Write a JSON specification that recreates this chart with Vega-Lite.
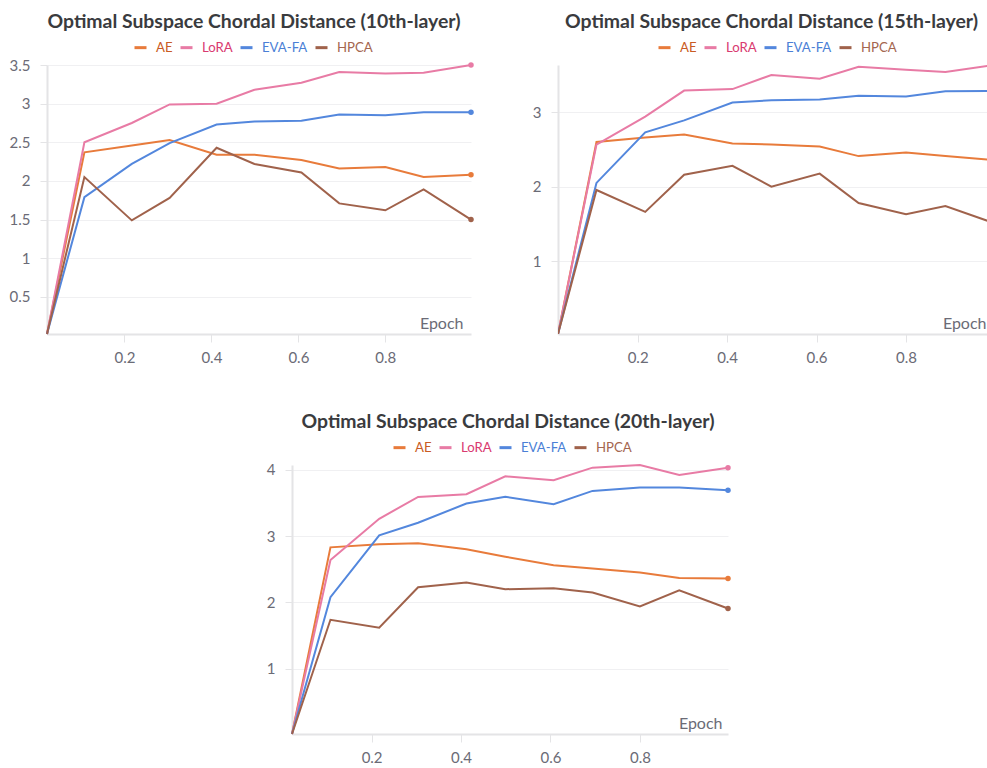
{
  "$schema": "https://vega.github.io/schema/vega-lite/v6.json",
  "padding": {"left": 9, "top": 11, "right": 0, "bottom": 0},
  "background": "white",
  "datasets": {
    "l10": [
      {"epoch": 0.022, "method": "AE", "value": 0.02}, {"epoch": 0.108, "method": "AE", "value": 2.37}, {"epoch": 0.217, "method": "AE", "value": 2.46}, {"epoch": 0.304, "method": "AE", "value": 2.53}, {"epoch": 0.412, "method": "AE", "value": 2.34}, {"epoch": 0.499, "method": "AE", "value": 2.34}, {"epoch": 0.607, "method": "AE", "value": 2.27}, {"epoch": 0.694, "method": "AE", "value": 2.16}, {"epoch": 0.8, "method": "AE", "value": 2.18}, {"epoch": 0.888, "method": "AE", "value": 2.05}, {"epoch": 0.997, "method": "AE", "value": 2.08},
      {"epoch": 0.022, "method": "LoRA", "value": 0.02}, {"epoch": 0.108, "method": "LoRA", "value": 2.5}, {"epoch": 0.217, "method": "LoRA", "value": 2.75}, {"epoch": 0.304, "method": "LoRA", "value": 2.99}, {"epoch": 0.412, "method": "LoRA", "value": 3.0}, {"epoch": 0.499, "method": "LoRA", "value": 3.18}, {"epoch": 0.607, "method": "LoRA", "value": 3.27}, {"epoch": 0.694, "method": "LoRA", "value": 3.41}, {"epoch": 0.8, "method": "LoRA", "value": 3.39}, {"epoch": 0.888, "method": "LoRA", "value": 3.4}, {"epoch": 0.997, "method": "LoRA", "value": 3.5},
      {"epoch": 0.022, "method": "EVA-FA", "value": 0.02}, {"epoch": 0.108, "method": "EVA-FA", "value": 1.79}, {"epoch": 0.217, "method": "EVA-FA", "value": 2.22}, {"epoch": 0.304, "method": "EVA-FA", "value": 2.49}, {"epoch": 0.412, "method": "EVA-FA", "value": 2.73}, {"epoch": 0.499, "method": "EVA-FA", "value": 2.77}, {"epoch": 0.607, "method": "EVA-FA", "value": 2.78}, {"epoch": 0.694, "method": "EVA-FA", "value": 2.86}, {"epoch": 0.8, "method": "EVA-FA", "value": 2.85}, {"epoch": 0.888, "method": "EVA-FA", "value": 2.89}, {"epoch": 0.997, "method": "EVA-FA", "value": 2.89},
      {"epoch": 0.022, "method": "HPCA", "value": 0.02}, {"epoch": 0.108, "method": "HPCA", "value": 2.05}, {"epoch": 0.217, "method": "HPCA", "value": 1.49}, {"epoch": 0.304, "method": "HPCA", "value": 1.78}, {"epoch": 0.412, "method": "HPCA", "value": 2.43}, {"epoch": 0.499, "method": "HPCA", "value": 2.22}, {"epoch": 0.607, "method": "HPCA", "value": 2.11}, {"epoch": 0.694, "method": "HPCA", "value": 1.71}, {"epoch": 0.8, "method": "HPCA", "value": 1.62}, {"epoch": 0.888, "method": "HPCA", "value": 1.89}, {"epoch": 0.997, "method": "HPCA", "value": 1.5}
    ],
    "l15": [
      {"epoch": 0.022, "method": "AE", "value": 0.02}, {"epoch": 0.108, "method": "AE", "value": 2.6}, {"epoch": 0.217, "method": "AE", "value": 2.66}, {"epoch": 0.304, "method": "AE", "value": 2.7}, {"epoch": 0.412, "method": "AE", "value": 2.58}, {"epoch": 0.499, "method": "AE", "value": 2.565}, {"epoch": 0.607, "method": "AE", "value": 2.54}, {"epoch": 0.694, "method": "AE", "value": 2.41}, {"epoch": 0.8, "method": "AE", "value": 2.46}, {"epoch": 0.888, "method": "AE", "value": 2.41}, {"epoch": 0.997, "method": "AE", "value": 2.355},
      {"epoch": 0.022, "method": "LoRA", "value": 0.02}, {"epoch": 0.108, "method": "LoRA", "value": 2.565}, {"epoch": 0.217, "method": "LoRA", "value": 2.94}, {"epoch": 0.304, "method": "LoRA", "value": 3.29}, {"epoch": 0.412, "method": "LoRA", "value": 3.31}, {"epoch": 0.499, "method": "LoRA", "value": 3.5}, {"epoch": 0.607, "method": "LoRA", "value": 3.45}, {"epoch": 0.694, "method": "LoRA", "value": 3.61}, {"epoch": 0.8, "method": "LoRA", "value": 3.57}, {"epoch": 0.888, "method": "LoRA", "value": 3.54}, {"epoch": 0.997, "method": "LoRA", "value": 3.634},
      {"epoch": 0.022, "method": "EVA-FA", "value": 0.02}, {"epoch": 0.108, "method": "EVA-FA", "value": 2.05}, {"epoch": 0.217, "method": "EVA-FA", "value": 2.73}, {"epoch": 0.304, "method": "EVA-FA", "value": 2.89}, {"epoch": 0.412, "method": "EVA-FA", "value": 3.13}, {"epoch": 0.499, "method": "EVA-FA", "value": 3.16}, {"epoch": 0.607, "method": "EVA-FA", "value": 3.17}, {"epoch": 0.694, "method": "EVA-FA", "value": 3.22}, {"epoch": 0.8, "method": "EVA-FA", "value": 3.21}, {"epoch": 0.888, "method": "EVA-FA", "value": 3.28}, {"epoch": 0.997, "method": "EVA-FA", "value": 3.285},
      {"epoch": 0.022, "method": "HPCA", "value": 0.02}, {"epoch": 0.108, "method": "HPCA", "value": 1.955}, {"epoch": 0.217, "method": "HPCA", "value": 1.66}, {"epoch": 0.304, "method": "HPCA", "value": 2.16}, {"epoch": 0.412, "method": "HPCA", "value": 2.28}, {"epoch": 0.499, "method": "HPCA", "value": 2.0}, {"epoch": 0.607, "method": "HPCA", "value": 2.175}, {"epoch": 0.694, "method": "HPCA", "value": 1.78}, {"epoch": 0.8, "method": "HPCA", "value": 1.63}, {"epoch": 0.888, "method": "HPCA", "value": 1.74}, {"epoch": 0.997, "method": "HPCA", "value": 1.51}
    ],
    "l20": [
      {"epoch": 0.022, "method": "AE", "value": 0.02}, {"epoch": 0.108, "method": "AE", "value": 2.83}, {"epoch": 0.217, "method": "AE", "value": 2.875}, {"epoch": 0.304, "method": "AE", "value": 2.89}, {"epoch": 0.412, "method": "AE", "value": 2.8}, {"epoch": 0.499, "method": "AE", "value": 2.69}, {"epoch": 0.607, "method": "AE", "value": 2.56}, {"epoch": 0.694, "method": "AE", "value": 2.51}, {"epoch": 0.8, "method": "AE", "value": 2.45}, {"epoch": 0.888, "method": "AE", "value": 2.37}, {"epoch": 0.997, "method": "AE", "value": 2.36},
      {"epoch": 0.022, "method": "LoRA", "value": 0.02}, {"epoch": 0.108, "method": "LoRA", "value": 2.64}, {"epoch": 0.217, "method": "LoRA", "value": 3.26}, {"epoch": 0.304, "method": "LoRA", "value": 3.59}, {"epoch": 0.412, "method": "LoRA", "value": 3.63}, {"epoch": 0.499, "method": "LoRA", "value": 3.9}, {"epoch": 0.607, "method": "LoRA", "value": 3.84}, {"epoch": 0.694, "method": "LoRA", "value": 4.03}, {"epoch": 0.8, "method": "LoRA", "value": 4.07}, {"epoch": 0.888, "method": "LoRA", "value": 3.92}, {"epoch": 0.997, "method": "LoRA", "value": 4.03},
      {"epoch": 0.022, "method": "EVA-FA", "value": 0.02}, {"epoch": 0.108, "method": "EVA-FA", "value": 2.08}, {"epoch": 0.217, "method": "EVA-FA", "value": 3.01}, {"epoch": 0.304, "method": "EVA-FA", "value": 3.2}, {"epoch": 0.412, "method": "EVA-FA", "value": 3.49}, {"epoch": 0.499, "method": "EVA-FA", "value": 3.59}, {"epoch": 0.607, "method": "EVA-FA", "value": 3.48}, {"epoch": 0.694, "method": "EVA-FA", "value": 3.68}, {"epoch": 0.8, "method": "EVA-FA", "value": 3.73}, {"epoch": 0.888, "method": "EVA-FA", "value": 3.73}, {"epoch": 0.997, "method": "EVA-FA", "value": 3.69},
      {"epoch": 0.022, "method": "HPCA", "value": 0.02}, {"epoch": 0.108, "method": "HPCA", "value": 1.74}, {"epoch": 0.217, "method": "HPCA", "value": 1.62}, {"epoch": 0.304, "method": "HPCA", "value": 2.23}, {"epoch": 0.412, "method": "HPCA", "value": 2.3}, {"epoch": 0.499, "method": "HPCA", "value": 2.2}, {"epoch": 0.607, "method": "HPCA", "value": 2.215}, {"epoch": 0.694, "method": "HPCA", "value": 2.15}, {"epoch": 0.8, "method": "HPCA", "value": 1.94}, {"epoch": 0.888, "method": "HPCA", "value": 2.185}, {"epoch": 0.997, "method": "HPCA", "value": 1.91}
    ]
  },
  "config": {
    "font": "Lato",
    "view": {"stroke": null},
    "axis": {"domainColor": "#e4e4e6", "domainWidth": 2, "tickColor": "#e4e4e6", "tickWidth": 1, "gridColor": "#f0f0f2", "gridWidth": 1, "labelColor": "#6b6b76", "labelFontSize": 15, "labelFont": "Lato", "format": "~g"},
    "axisX": {"grid": false, "tickSize": 8, "labelPadding": 8, "titleAlign": "right", "titleBaseline": "alphabetic", "titleFontSize": 16, "titleFontWeight": "normal", "titleColor": "#6b6b76", "titleY": -6},
    "axisY": {"grid": true, "tickSize": 7, "labelPadding": 10},
    "title": {"fontSize": 19.4, "fontWeight": "bold", "color": "#3a3b3e", "anchor": "middle", "frame": "group", "offset": 8},
    "legend": {"orient": "none", "direction": "horizontal", "title": null, "symbolType": "stroke", "symbolStrokeWidth": 3, "symbolSize": 144, "labelFontSize": 13.2, "labelOffset": 8, "columnPadding": 1, "labelFont": "Lato"}
  },
  "spacing": 46,
  "resolve": {"scale": {"color": "independent"}, "legend": {"color": "independent"}},
  "vconcat": [
    {
      "spacing": 57,
      "hconcat": [
        {
          "width": 424, "height": 269,
          "data": {"name": "l10"},
          "title": {"text": "Optimal Subspace Chordal Distance (10th-layer)", "dx": -5},
          "encoding": {
            "x": {"field": "epoch", "type": "quantitative", "scale": {"domain": [0.022, 0.997], "nice": false, "zero": false}, "axis": {"values": [0.2, 0.4, 0.6, 0.8], "title": "Epoch", "titleX": 416, "encode": {"ticks": {"update": {"y": {"value": -8}, "y2": {"value": 8}}}}}},
            "y": {"field": "value", "type": "quantitative", "scale": {"domain": [0.02, 3.5], "nice": false, "zero": false}, "axis": {"values": [0.5, 1, 1.5, 2, 2.5, 3, 3.5], "title": null}},
            "color": {"field": "method", "type": "nominal", "scale": {"domain": ["AE", "LoRA", "EVA-FA", "HPCA"], "range": ["#e87b3b", "#e87ba5", "#5387dd", "#a0624b"]}, "legend": null}
          },
          "layer": [
            {"mark": {"type": "line", "strokeWidth": 2},
             "encoding": {"color": {"field": "method", "type": "nominal", "legend": {"legendX": 86, "legendY": -25, "encode": {"labels": {"update": {"fill": {"signal": "datum.value === 'AE' ? '#c95b24' : datum.value === 'LoRA' ? '#d93a70' : datum.value === 'EVA-FA' ? '#4b7fd6' : '#a4664f'"}}}}}}}},
            {"transform": [{"filter": "datum.epoch > 0.99"}], "mark": {"type": "circle", "size": 30, "opacity": 1}}
          ]
        },
        {
          "width": 429, "height": 269,
          "data": {"name": "l15"},
          "title": {"text": "Optimal Subspace Chordal Distance (15th-layer)", "dx": -1},
          "encoding": {
            "x": {"field": "epoch", "type": "quantitative", "scale": {"domain": [0.022, 0.981], "nice": false, "zero": false}, "axis": {"values": [0.2, 0.4, 0.6, 0.8], "title": "Epoch", "titleX": 428, "encode": {"ticks": {"update": {"y": {"value": -8}, "y2": {"value": 8}}}}}},
            "y": {"field": "value", "type": "quantitative", "scale": {"domain": [0.02, 3.634], "nice": false, "zero": false}, "axis": {"values": [1, 2, 3], "title": null}},
            "color": {"field": "method", "type": "nominal", "scale": {"domain": ["AE", "LoRA", "EVA-FA", "HPCA"], "range": ["#e87b3b", "#e87ba5", "#5387dd", "#a0624b"]}, "legend": null}
          },
          "layer": [
            {"mark": {"type": "line", "strokeWidth": 2, "clip": true},
             "encoding": {"color": {"field": "method", "type": "nominal", "legend": {"legendX": 99, "legendY": -25, "encode": {"labels": {"update": {"fill": {"signal": "datum.value === 'AE' ? '#c95b24' : datum.value === 'LoRA' ? '#d93a70' : datum.value === 'EVA-FA' ? '#4b7fd6' : '#a4664f'"}}}}}}}},
            {"transform": [{"filter": "datum.epoch > 0.99"}], "mark": {"type": "circle", "size": 30, "opacity": 1, "clip": true}}
          ]
        }
      ],
      "resolve": {"scale": {"color": "independent"}, "legend": {"color": "independent"}}
    },
    {
      "spacing": 20,
      "hconcat": [
        {
          "width": 199, "height": 1,
          "data": {"values": []},
          "mark": {"type": "point", "opacity": 0},
          "encoding": {}
        },
        {
          "width": 436, "height": 269,
          "data": {"name": "l20"},
          "title": {"text": "Optimal Subspace Chordal Distance (20th-layer)", "dx": -2},
          "encoding": {
            "x": {"field": "epoch", "type": "quantitative", "scale": {"domain": [0.022, 0.997], "nice": false, "zero": false}, "axis": {"values": [0.2, 0.4, 0.6, 0.8], "title": "Epoch", "titleX": 430, "encode": {"ticks": {"update": {"y": {"value": -8}, "y2": {"value": 8}}}}}},
            "y": {"field": "value", "type": "quantitative", "scale": {"domain": [0.02, 4.07], "nice": false, "zero": false}, "axis": {"values": [1, 2, 3, 4], "title": null}},
            "color": {"field": "method", "type": "nominal", "scale": {"domain": ["AE", "LoRA", "EVA-FA", "HPCA"], "range": ["#e87b3b", "#e87ba5", "#5387dd", "#a0624b"]}, "legend": null}
          },
          "layer": [
            {"mark": {"type": "line", "strokeWidth": 2},
             "encoding": {"color": {"field": "method", "type": "nominal", "legend": {"legendX": 100, "legendY": -25, "encode": {"labels": {"update": {"fill": {"signal": "datum.value === 'AE' ? '#c95b24' : datum.value === 'LoRA' ? '#d93a70' : datum.value === 'EVA-FA' ? '#4b7fd6' : '#a4664f'"}}}}}}}},
            {"transform": [{"filter": "datum.epoch > 0.99"}], "mark": {"type": "circle", "size": 30, "opacity": 1}}
          ]
        }
      ],
      "resolve": {"scale": {"color": "independent"}, "legend": {"color": "independent"}}
    }
  ]
}
